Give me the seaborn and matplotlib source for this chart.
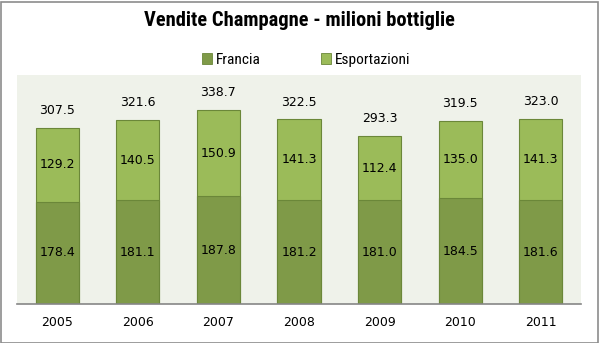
import matplotlib
matplotlib.use("Agg")
import matplotlib.pyplot as plt
import seaborn as sns
import pandas as pd
from matplotlib import font_manager
from matplotlib.patches import Patch, Rectangle

years = ["2005", "2006", "2007", "2008", "2009", "2010", "2011"]
francia = [178.4, 181.1, 187.8, 181.2, 181.0, 184.5, 181.6]
esportazioni = [129.2, 140.5, 150.9, 141.3, 112.4, 135.0, 141.3]
totali = [307.5, 321.6, 338.7, 322.5, 293.3, 319.5, 323.0]

c_fr = "#7F9A48"
c_ex = "#9BBB59"
c_edge = "#6B8739"

df = pd.DataFrame({"anno": years, "Francia": francia, "Esportazioni": esportazioni, "Totale": totali})
df["stack"] = df["Francia"] + df["Esportazioni"]

sns.set_theme(style="white")
plt.rcParams["font.family"] = ["DejaVu Sans"]

fonts = font_manager.fontManager.ttflist


def pick(cands, bold=False):
    for c in cands:
        for f in fonts:
            if f.name == c and (not bold or (isinstance(f.weight, int) and f.weight >= 700) or f.weight == "bold"):
                return c
    return "DejaVu Sans"


cands = ["Roboto Condensed", "PT Sans Narrow", "Fira Sans Condensed", "IBM Plex Sans Condensed",
         "Liberation Sans Narrow", "Archivo Narrow", "DejaVu Sans"]
narrow_b = pick(cands, bold=True)
narrow = pick(cands)

W, H = 599, 343
fig = plt.figure(figsize=(W / 100, H / 100), dpi=100)
fig.patch.set_facecolor("white")
ax = fig.add_axes([17 / W, (H - 304) / H, 564 / W, 229 / H])
ax.set_facecolor("#EFF2EA")

bw = 0.535
sns.barplot(data=df, x="anno", y="stack", color=c_ex, width=bw, ax=ax,
            edgecolor=c_edge, linewidth=0.8, saturation=1)
sns.barplot(data=df, x="anno", y="Francia", color=c_fr, width=bw, ax=ax,
            edgecolor=c_edge, linewidth=0.8, saturation=1)

ax.set_ylim(0, 400)
ax.set_xlim(-0.5, len(years) - 0.5)
ax.set_xlabel("")
ax.set_ylabel("")
ax.set_yticks([])
for s in ["top", "left", "right"]:
    ax.spines[s].set_visible(False)
ax.spines["bottom"].set_color("#868686")
ax.spines["bottom"].set_linewidth(1.2)
ax.tick_params(axis="x", length=0, pad=8.5, labelsize=9, labelcolor="black")

lab_kw = dict(ha="center", va="center", fontsize=9, color="black")
for i in range(len(years)):
    ax.text(i, francia[i] / 2, f"{francia[i]:.1f}", **lab_kw)
    ax.text(i, francia[i] + esportazioni[i] / 2, f"{esportazioni[i]:.1f}", **lab_kw)
    ax.annotate(f"{totali[i]:.1f}", xy=(i, francia[i] + esportazioni[i]),
                xytext=(0, 12.5), textcoords="offset points", **lab_kw)

renderer = fig.canvas.get_renderer()

title = fig.text(0.5, 1 - 21 / H, "Vendite Champagne - milioni bottiglie",
                 ha="center", va="center", fontsize=14, fontweight="bold",
                 color="black", family=[narrow_b, "DejaVu Sans"])
tw = title.get_window_extent(renderer).width
title.set_fontsize(14 * 313.0 / tw)

# legend font size fitted so that "Francia" is ~45 px wide
probe = fig.text(0, 0, "Francia", fontsize=10, family=[narrow, "DejaVu Sans"])
pw = probe.get_window_extent(renderer).width
probe.remove()
lfs = 10 * 45.0 / pw
lfs_px = lfs * 100 / 72

handles = [Patch(facecolor=c_fr, edgecolor=c_edge, linewidth=0.6),
           Patch(facecolor=c_ex, edgecolor=c_edge, linewidth=0.6)]
leg = fig.legend(handles, ["Francia", "Esportazioni"], loc="center",
                 bbox_to_anchor=(306 / W, 1 - 60 / H), ncol=2, frameon=False,
                 prop={"family": [narrow, "DejaVu Sans"], "size": lfs},
                 handlelength=10 / lfs_px, handleheight=10 / lfs_px,
                 handletextpad=4 / lfs_px, columnspacing=60 / lfs_px, borderpad=0)
for t in leg.get_texts():
    t.set_color("black")

fig.patches.append(Rectangle((0.5 / W, 0.5 / H), 1 - 2 / W, 1 - 2 / H,
                             transform=fig.transFigure, fill=False,
                             edgecolor="#8C8C8C", linewidth=1.2))

fig.savefig("out.png", dpi=100, facecolor="white")
